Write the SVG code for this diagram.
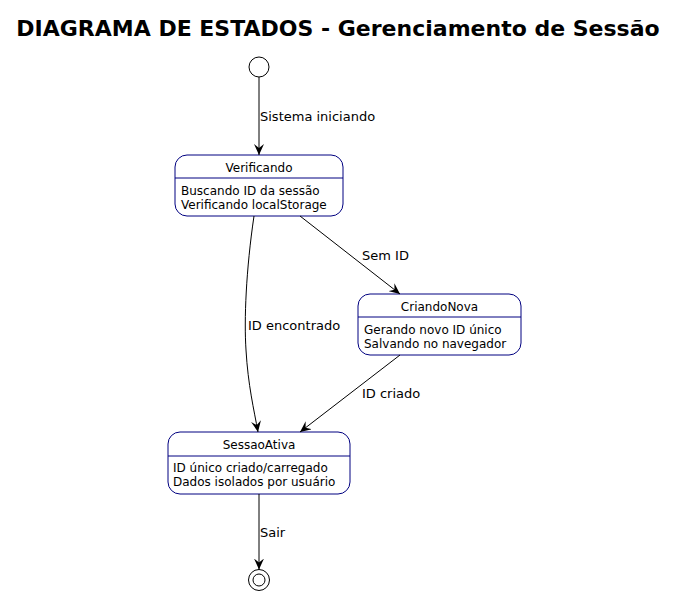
<svg xmlns="http://www.w3.org/2000/svg" width="677" height="598" viewBox="0 0 677 598">
<style>
text{font-family:"DejaVu Sans",sans-serif;fill:#000}
.title{font-size:22px;font-weight:bold}
.st{font-size:12px}
.bd{font-size:12px}
.lb{font-size:13px}
.box{fill:#fff;stroke:#000080;stroke-width:1}
.div{stroke:#000080;stroke-width:1}
.e{fill:none;stroke:#000;stroke-width:1}
</style>
<defs>
<marker id="arr" viewBox="0 0 12 10" refX="11" refY="5" markerWidth="12" markerHeight="10" markerUnits="userSpaceOnUse" orient="auto">
<path d="M0,0 L11,5 L0,10 L4,5 Z" fill="#000"/>
</marker>
</defs>
<rect width="677" height="598" fill="#fff"/>
<text class="title" x="338" y="36" text-anchor="middle">DIAGRAMA DE ESTADOS - Gerenciamento de Sessão</text>
<g id="start"><circle cx="259" cy="67" r="10" fill="#fff" stroke="#000"/></g>
<g id="Verificando">
<rect class="box" x="175" y="155" width="168" height="61" rx="12"/>
<line class="div" x1="175" y1="178" x2="343" y2="178"/>
<text class="st" x="259" y="172" text-anchor="middle">Verificando</text>
<text class="bd" x="181" y="195">Buscando ID da sessão</text>
<text class="bd" x="181" y="209">Verificando localStorage</text>
</g>
<g id="CriandoNova">
<rect class="box" x="358" y="294" width="163" height="61" rx="12"/>
<line class="div" x1="358" y1="317" x2="521" y2="317"/>
<text class="st" x="439.5" y="311" text-anchor="middle">CriandoNova</text>
<text class="bd" x="364" y="334">Gerando novo ID único</text>
<text class="bd" x="364" y="348">Salvando no navegador</text>
</g>
<g id="SessaoAtiva">
<rect class="box" x="168" y="432" width="182" height="62" rx="12"/>
<line class="div" x1="168" y1="456" x2="350" y2="456"/>
<text class="st" x="259" y="449" text-anchor="middle">SessaoAtiva</text>
<text class="bd" x="173" y="472">ID único criado/carregado</text>
<text class="bd" x="173" y="486">Dados isolados por usuário</text>
</g>
<g id="end"><circle cx="259" cy="580" r="10.5" fill="#fff" stroke="#000"/><circle cx="259" cy="580" r="6" fill="#fff" stroke="#000"/></g>
<g id="connectors">
<line class="e" x1="259" y1="77" x2="259" y2="155" marker-end="url(#arr)"/>
<text class="lb" x="260" y="121">Sistema iniciando</text>
<line class="e" x1="300" y1="216" x2="400" y2="294" marker-end="url(#arr)"/>
<text class="lb" x="362" y="260">Sem ID</text>
<path class="e" d="M254,216 C246,270 244,320 246,350 C248,385 254,410 258,432" marker-end="url(#arr)"/>
<text class="lb" x="248" y="330">ID encontrado</text>
<line class="e" x1="400" y1="355" x2="300" y2="432" marker-end="url(#arr)"/>
<text class="lb" x="362" y="398">ID criado</text>
<line class="e" x1="259" y1="494" x2="259" y2="569.5" marker-end="url(#arr)"/>
<text class="lb" x="260" y="537">Sair</text>
</g>
</svg>
